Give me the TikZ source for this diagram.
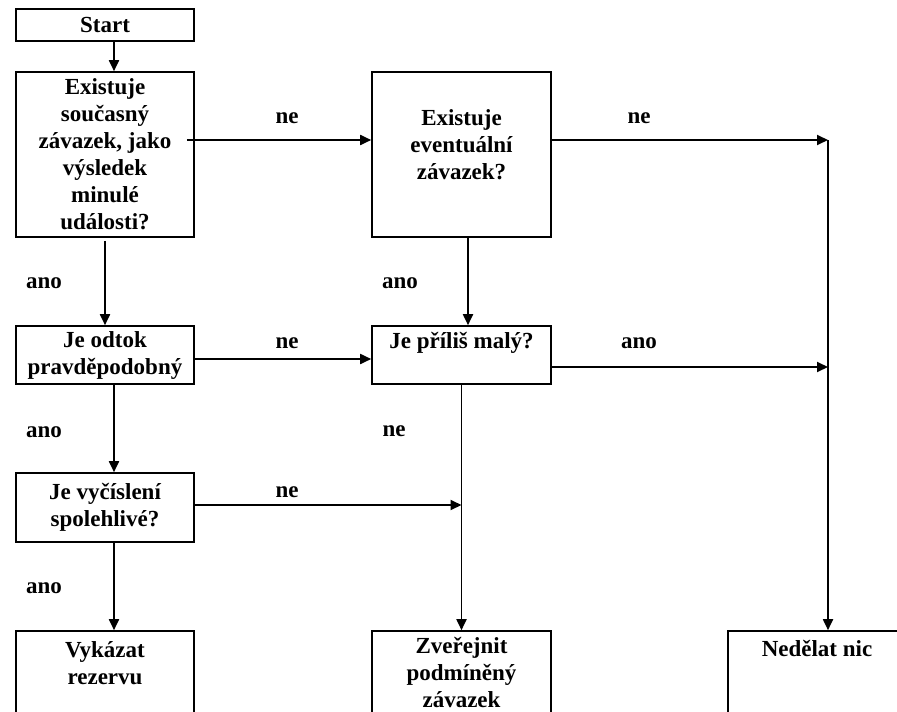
\documentclass[tikz,border=0pt]{standalone}
\usepackage{fontspec}
\setmainfont{Liberation Serif}
\usetikzlibrary{arrows.meta}

\tikzset{
  box/.style={draw, line width=1.6pt, inner sep=0pt, align=center, font=\fontsize{23}{27}\selectfont\bfseries},
  txt/.style={inner sep=0pt, align=center, font=\fontsize{23}{27}\selectfont\bfseries},
  flow/.style={->, line width=1.8pt},
}

\begin{document}
\begin{tikzpicture}[x=1pt, y=-1pt, >={Triangle[length=11pt,width=10pt]}]
\useasboundingbox (0,0) rectangle (897,712);
\clip (0,0) rectangle (897,712);

% Boxes
\node[box, minimum width=178pt, minimum height=32pt] (start) at (105,25) {Start};
\node[box, minimum width=178pt, minimum height=165pt] (q1) at (105,154.5) {Existuje\\současný\\závazek, jako\\výsledek\\minulé\\události?};
\node[box, minimum width=179pt, minimum height=165pt] (q2) at (461.5,154.5) {};
\node[txt] (q2t) at (461.5,145) {Existuje\\eventuální\\závazek?};

\node[box, minimum width=178pt, minimum height=58pt] (odtok) at (105,355) {Je odtok\\pravděpodobný};
\node[box, minimum width=179pt, minimum height=58pt] (maly) at (461.5,355) {};
\node[txt] (malyt) at (461.5,343) {Je příliš malý?};

\node[box, minimum width=178pt, minimum height=69pt] (vycis) at (105,507.5) {Je vyčíslení\\spolehlivé?};

\node[box, minimum width=178pt, minimum height=110pt] (rez) at (105,686) {};
\node[txt] (rezt) at (105,663.5) {Vykázat\\rezervu};
\node[box, minimum width=179pt, minimum height=110pt] (zver) at (461.5,686) {};
\node[txt] (zvert) at (461.5,672.5) {Zveřejnit\\podmíněný\\závazek};
\node[box, minimum width=178pt, minimum height=110pt] (nic) at (817,686) {};
\node[txt] (nict) at (817,648) {Nedělat nic};

% Joints on the lines
\coordinate (jn1) at (828,140);
\coordinate (jn2) at (828,367);
\coordinate (jn3) at (461.5,505);

% Arrows
\draw[flow] ([xshift=9pt]start.south) -- ([xshift=9pt]q1.north);
\draw[flow] ([xshift=-8pt,yshift=14.5pt]q1.east) -- ([yshift=14.5pt]q2.west);
\draw[flow] ([yshift=14.5pt]q2.east) -- (jn1);
\draw[flow] (jn1) -- (jn1 |- nic.north);

\draw[flow, shorten <=3pt] (q1.south) -- (odtok.north);
\draw[flow] ([xshift=6.5pt]q2.south) -- ([xshift=6.5pt]maly.north);
\draw[flow] ([yshift=-4pt]odtok.east) -- ([yshift=-4pt]maly.west);
\draw[flow] ([yshift=-12pt]maly.east) -- (jn2);

\draw[flow] ([xshift=9pt]odtok.south) -- ([xshift=9pt]vycis.north);
\draw[flow] (maly.south) -- (zver.north);
\draw[flow] ([yshift=2.5pt]vycis.east) -- (jn3);

\draw[flow] ([xshift=9pt]vycis.south) -- ([xshift=9pt]rez.north);

% Labels
\node[txt] (ne1) at (287,118) {ne};
\node[txt] (ne2) at (639,118) {ne};
\node[txt] (ano1) at (44,283) {ano};
\node[txt] (ano2) at (400,283) {ano};
\node[txt] (ne3) at (287,343) {ne};
\node[txt] (ano3) at (639,343) {ano};
\node[txt] (ano4) at (44,432) {ano};
\node[txt] (ne4) at (394,431) {ne};
\node[txt] (ne5) at (287,492) {ne};
\node[txt] (ano5) at (44,588) {ano};

\end{tikzpicture}
\end{document}
